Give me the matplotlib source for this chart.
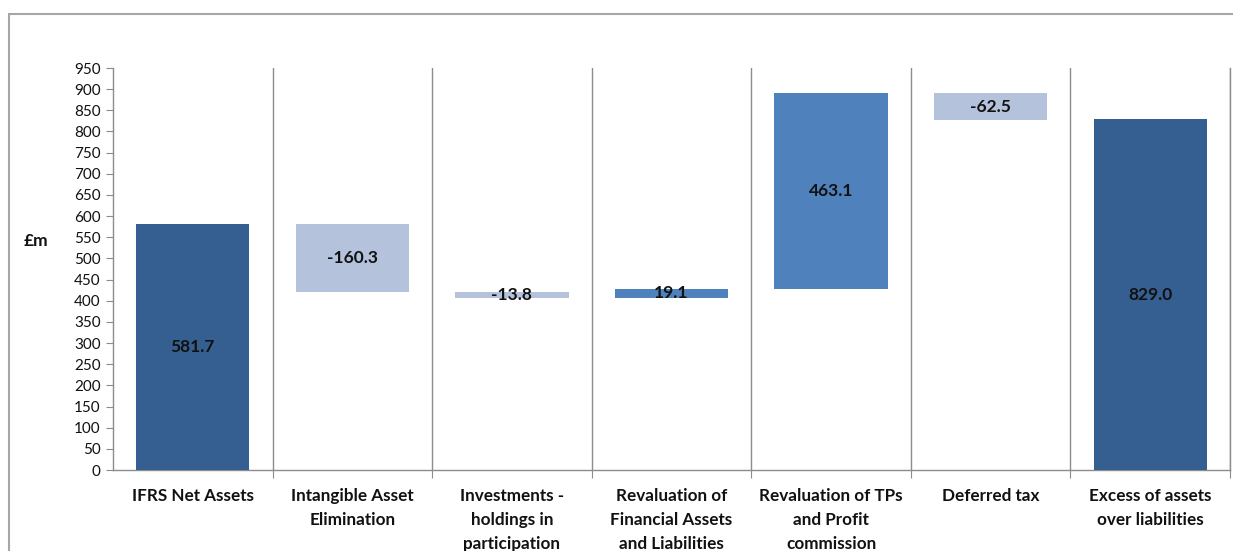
import matplotlib
matplotlib.use("Agg")
import matplotlib.pyplot as plt
from matplotlib.patches import Rectangle
import numpy as np

categories = ["IFRS Net Assets", "Intangible Asset\nElimination", "Investments -\nholdings in\nparticipation",
              "Revaluation of\nFinancial Assets\nand Liabilities", "Revaluation of TPs\nand Profit\ncommission",
              "Deferred tax", "Excess of assets\nover liabilities"]
values = [581.7, -160.3, -13.8, 19.1, 463.1, -62.5, 829.0]
labels = ["581.7", "-160.3", "-13.8", "19.1", "463.1", "-62.5", "829.0"]
is_total = [True, False, False, False, False, False, True]

plt.rcParams['font.family'] = ['Lato', 'DejaVu Sans']

C_TOTAL = "#365F91"
C_UP = "#4F81BD"
C_DOWN = "#B4C2DC"
GRAY = "#8C8C8C"

fig = plt.figure(figsize=(12.33, 5.51), dpi=100)
fig.patches.append(Rectangle((9/1233, -0.2), 1.2, 1 - 14/551 + 0.2, transform=fig.transFigure,
                             fill=False, edgecolor="#A6A6A6", linewidth=1.5, zorder=0))
ax = fig.add_axes([113/1233, 81/551, (1230-113)/1233, (470-68)/551])

running = 0.0
bottoms, heights, colors = [], [], []
for v, tot in zip(values, is_total):
    if tot:
        bottoms.append(0.0); heights.append(v); colors.append(C_TOTAL)
        running = v
    else:
        if v >= 0:
            bottoms.append(running); heights.append(v); colors.append(C_UP)
        else:
            bottoms.append(running + v); heights.append(-v); colors.append(C_DOWN)
        running += v

x = np.arange(len(categories))
ax.bar(x, heights, bottom=bottoms, width=0.71, color=colors, zorder=3)
for xi, b, h, lab in zip(x, bottoms, heights, labels):
    ax.text(xi, b + h / 2, lab, ha="center", va="center", fontsize=12.5, fontweight="bold",
            color="#111111", zorder=4)

ax.set_xlim(-0.5, len(categories) - 0.5)
ax.set_ylim(0, 950)
ax.set_yticks(np.arange(0, 951, 50))
ax.tick_params(axis="y", labelsize=11, length=5, color=GRAY, pad=4, labelcolor="#111111")

ax.set_xticks(np.arange(0.5, len(categories) - 0.5 + 1, 1.0))
ax.set_xticklabels([])
ax.tick_params(axis="x", which="major", length=6, color=GRAY)
ax.set_xticks(x, minor=True)
ax.set_xticklabels(categories, minor=True, fontsize=12.3, fontweight="bold", color="#111111",
                   va="top", linespacing=1.6)
ax.tick_params(axis="x", which="minor", length=0, pad=13)
ax.xaxis.grid(True, which="major", color=GRAY, linewidth=1.0, zorder=1)

ax.spines["top"].set_visible(False)
for s in ["left", "bottom", "right"]:
    ax.spines[s].set_color(GRAY)
    ax.spines[s].set_linewidth(1.0)

fig.text(24/1233, 1 - 241/551, "£m", fontsize=12.5, fontweight="bold", va="center", ha="left",
         color="#111111")

fig.savefig("out.png", dpi=100)
